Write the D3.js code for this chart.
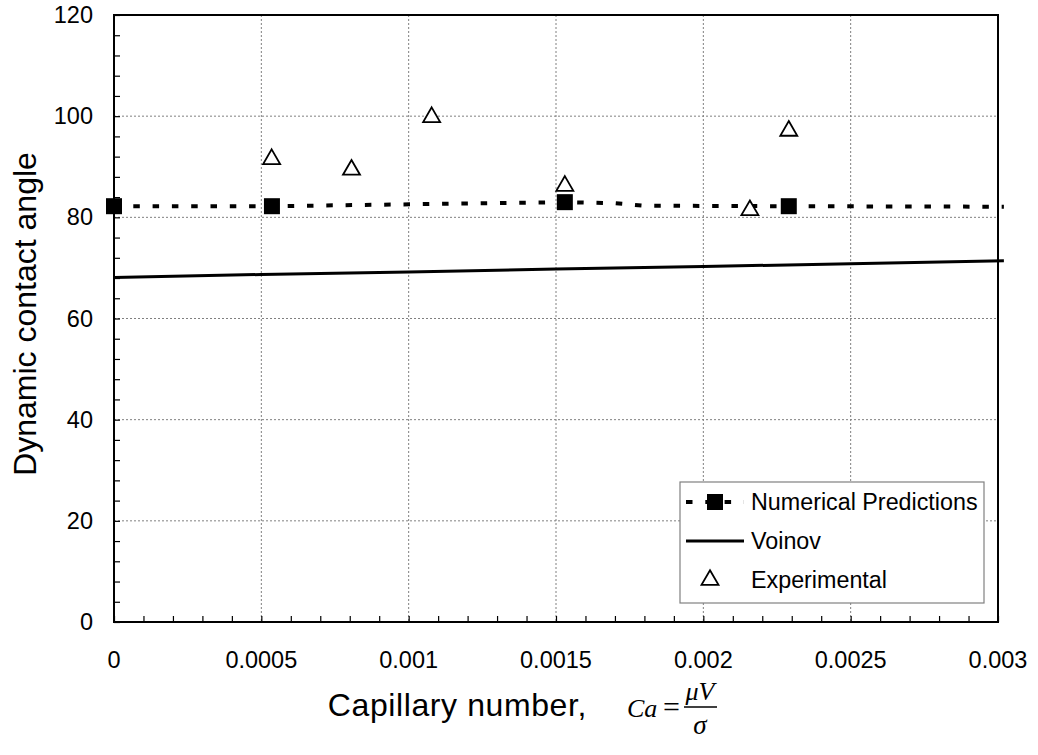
<!DOCTYPE html>
<html>
<head>
<meta charset="utf-8">
<script src="https://cdn.jsdelivr.net/npm/d3@7"></script>
<style>
  body { margin: 0; background: #fff; }
  svg { display: block; font-family: Arial, "Liberation Sans", sans-serif; }
</style>
</head>
<body>
<script>
// * DATA
const predCa = [0, 0.000536, 0.00153, 0.0017, 0.0018, 0.00229, 0.00302];
const predAngle = [82.2, 82.2, 83.0, 82.8, 82.3, 82.2, 82.1];
const predMarkerCa = [0, 0.000536, 0.00153, 0.00229];
const predMarkerAngle = [82.2, 82.2, 83.0, 82.2];
const voinovCa = [0, 0.0005, 0.001, 0.0015, 0.002, 0.0025, 0.00302];
const voinovAngle = [68.1, 68.7, 69.2, 69.8, 70.3, 70.8, 71.4];
const expCa = [0.000535, 0.000806, 0.001078, 0.00153, 0.002158, 0.00229];
const expAngle = [91.5, 89.4, 99.8, 86.2, 81.4, 97.1];
const xTicks = [0, 0.0005, 0.001, 0.0015, 0.002, 0.0025, 0.003];
const xTickLabels = ["0", "0.0005", "0.001", "0.0015", "0.002", "0.0025", "0.003"];
const yTicks = [0, 20, 40, 60, 80, 100, 120];
const legendLabels = ["Numerical Predictions", "Voinov", "Experimental"];

const w = 1038;
const h = 755;
const padL = 114, padT = 15, padR = 998, padB = 622;

const svg = d3.select("body").append("svg").attr("width", w).attr("height", h);

// * SCALES
const xScale = d3.scaleLinear().domain([0, 0.003]).range([padL, padR]);
const yScale = d3.scaleLinear().domain([0, 120]).range([padB, padT]);

// * GRID
svg.append("g")
  .selectAll("line")
  .data(yTicks.filter((d) => d > 0 && d < 120))
  .enter()
  .append("line")
  .attr("x1", padL).attr("x2", padR)
  .attr("y1", (d) => yScale(d)).attr("y2", (d) => yScale(d))
  .attr("stroke", "#808080").attr("stroke-width", 1)
  .attr("stroke-dasharray", "2,2");
svg.append("g")
  .selectAll("line")
  .data(xTicks.filter((d) => d > 0 && d < 0.003))
  .enter()
  .append("line")
  .attr("y1", padT).attr("y2", padB)
  .attr("x1", (d) => xScale(d)).attr("x2", (d) => xScale(d))
  .attr("stroke", "#808080").attr("stroke-width", 1)
  .attr("stroke-dasharray", "2,2");

// * AXES (minor ticks inside)
const xAxis = d3.axisTop(xScale)
  .tickValues(d3.range(0, 31).map((i) => i * 0.0001))
  .tickSize(6).tickFormat("");
svg.append("g")
  .attr("transform", "translate(0," + padB + ")")
  .call(xAxis)
  .call((g) => g.select(".domain").remove())
  .call((g) => g.selectAll("line").attr("stroke", "#000").attr("stroke-width", 1.2));
const yAxis = d3.axisRight(yScale)
  .tickValues(d3.range(0, 31).map((i) => i * 4))
  .tickSize(6).tickFormat("");
svg.append("g")
  .attr("transform", "translate(" + padL + ",0)")
  .call(yAxis)
  .call((g) => g.select(".domain").remove())
  .call((g) => g.selectAll("line").attr("stroke", "#000").attr("stroke-width", 1.2));

// frame
svg.append("rect")
  .attr("x", padL).attr("y", padT)
  .attr("width", padR - padL).attr("height", padB - padT)
  .attr("fill", "none").attr("stroke", "#000").attr("stroke-width", 2);

// tick labels
svg.append("g")
  .selectAll("text")
  .data(xTicks)
  .enter()
  .append("text")
  .attr("x", (d) => xScale(d))
  .attr("y", 668)
  .attr("text-anchor", "middle")
  .attr("font-size", 23.5)
  .text((d, i) => xTickLabels[i]);
svg.append("g")
  .selectAll("text")
  .data(yTicks)
  .enter()
  .append("text")
  .attr("x", 93)
  .attr("y", (d) => yScale(d) + 8)
  .attr("text-anchor", "end")
  .attr("font-size", 23.5)
  .text((d) => d);

// axis titles
svg.append("text")
  .attr("transform", "translate(36," + 314 + ") rotate(-90)")
  .attr("text-anchor", "middle")
  .attr("font-size", 32)
  .text("Dynamic contact angle");

svg.append("text")
  .attr("x", 587).attr("y", 716)
  .attr("text-anchor", "end")
  .attr("font-size", 32)
  .attr("letter-spacing", 0.6)
  .text("Capillary number,");
const formula = svg.append("g").attr("font-family", "'Liberation Serif', 'Times New Roman', serif");
formula.append("text").attr("x", 627).attr("y", 717).attr("font-size", 26).attr("font-style", "italic").text("Ca");
formula.append("text").attr("x", 663).attr("y", 717).attr("font-size", 30).text("=");
formula.append("line").attr("x1", 684).attr("x2", 717).attr("y1", 707).attr("y2", 707).attr("stroke", "#000").attr("stroke-width", 1.3);
formula.append("text").attr("x", 700).attr("y", 700).attr("text-anchor", "middle").attr("font-size", 26).attr("font-style", "italic").text("μV");
formula.append("text").attr("x", 700).attr("y", 734).attr("text-anchor", "middle").attr("font-size", 27).attr("font-style", "italic").text("σ");

// * SERIES
const line = d3.line().x((d) => xScale(d[0])).y((d) => yScale(d[1]));

svg.append("path")
  .datum(voinovCa.map((c, i) => [c, voinovAngle[i]]))
  .attr("d", line)
  .attr("fill", "none").attr("stroke", "#000").attr("stroke-width", 3);

svg.append("path")
  .datum(predCa.map((c, i) => [c, predAngle[i]]))
  .attr("d", line)
  .attr("fill", "none").attr("stroke", "#000").attr("stroke-width", 4)
  .attr("stroke-dasharray", "6.5,12.8");

const tri = d3.symbol().type(d3.symbolTriangle).size(125);
svg.append("g")
  .selectAll("path")
  .data(expCa.map((c, i) => [c, expAngle[i]]))
  .enter()
  .append("path")
  .attr("d", tri)
  .attr("transform", (d) => "translate(" + xScale(d[0]) + "," + yScale(d[1]) + ")")
  .attr("fill", "#fff").attr("stroke", "#000").attr("stroke-width", 1.8);

svg.append("g")
  .selectAll("rect")
  .data(predMarkerCa.map((c, i) => [c, predMarkerAngle[i]]))
  .enter()
  .append("rect")
  .attr("x", (d) => xScale(d[0]) - 8)
  .attr("y", (d) => yScale(d[1]) - 8)
  .attr("width", 16).attr("height", 16)
  .attr("fill", "#000");

// * LEGEND
const lg = svg.append("g");
lg.append("rect")
  .attr("x", 680).attr("y", 482).attr("width", 304).attr("height", 121)
  .attr("fill", "#fff").attr("stroke", "#808080").attr("stroke-width", 1.2);
const rowY = [502, 541, 580];
lg.append("line").attr("x1", 686).attr("x2", 744).attr("y1", rowY[0]).attr("y2", rowY[0])
  .attr("stroke", "#000").attr("stroke-width", 4).attr("stroke-dasharray", "6.5,12.8");
lg.append("rect").attr("x", 707).attr("y", rowY[0] - 8).attr("width", 16).attr("height", 16).attr("fill", "#000");
lg.append("line").attr("x1", 686).attr("x2", 744).attr("y1", rowY[1]).attr("y2", rowY[1])
  .attr("stroke", "#000").attr("stroke-width", 3);
lg.append("path").attr("d", tri).attr("transform", "translate(710," + rowY[2] + ")")
  .attr("fill", "#fff").attr("stroke", "#000").attr("stroke-width", 1.8);
lg.selectAll("text.lab")
  .data(legendLabels)
  .enter()
  .append("text")
  .attr("class", "lab")
  .attr("x", 751)
  .attr("y", (d, i) => rowY[i] + 8)
  .attr("font-size", 23.3)
  .text((d) => d);
</script>
</body>
</html>
